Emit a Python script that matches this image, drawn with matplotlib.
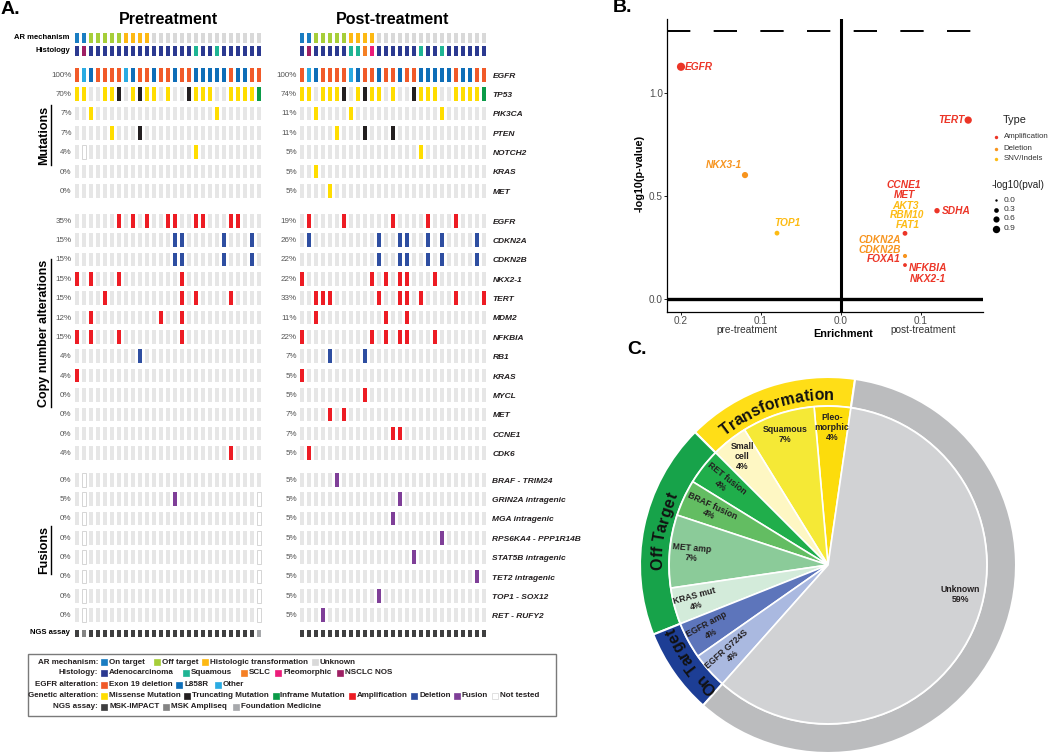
import numpy as np
import matplotlib
matplotlib.use("Agg")
import matplotlib.pyplot as plt
from matplotlib.patches import Rectangle
from matplotlib.font_manager import FontProperties, findfont, get_font

plt.rcParams['font.family'] = ['Liberation Sans', 'DejaVu Sans']

W, H = 1050, 752
N = 27

# ---------------- panel A data ----------------
ar_mechanism = "OOFFFFFHHHHUUUUUUUUUUUUUUUU"
pre_histology = "ANAAAAAAAAAAAAAAASAASAAAAAA"
post_histology = "ANAAAAASSCPAAAAAASAASAAAAAA"
egfr_alteration = "EOREEEEOREEREEREERRRRRERREE"
pre_assay = "DMDDDDDDDDDDDDDDDDDDDDDDDDF"
post_assay = "DDDDDDDDDDDDDDDDDDDDDDDDDDD"

mut_genes = ["EGFR", "TP53", "PIK3CA", "PTEN", "NOTCH2", "KRAS", "MET"]
cna_genes = ["EGFR", "CDKN2A", "CDKN2B", "NKX2-1", "TERT", "MDM2", "NFKBIA",
             "RB1", "KRAS", "MYCL", "MET", "CCNE1", "CDK6"]
fus_genes = ["BRAF - TRIM24", "GRIN2A intragenic", "MGA intragenic",
             "RPS6KA4 - PPP1R14B", "STAT5B intragenic", "TET2 intragenic",
             "TOP1 - SOX12", "RET - RUFY2"]

# column indices per alteration: M missense, T truncating, I inframe,
# A amplification, D deletion, F fusion, x not tested
pre_mut = [
    {"M": [0, 1, 4, 5, 8, 10, 11, 13, 17, 18, 19, 22, 23, 24, 25], "T": [6, 9, 16], "I": [26]},
    {"M": [2, 20]},
    {"M": [5], "T": [9]},
    {"M": [17], "x": [1]},
    {},
    {},
]
post_mut = [
    {"M": [0, 1, 3, 4, 5, 8, 10, 11, 13, 17, 18, 19, 22, 23, 24, 25], "T": [6, 9, 16], "I": [26]},
    {"M": [2, 7, 20]},
    {"M": [5], "T": [9, 13]},
    {"M": [17]},
    {"M": [2]},
    {"M": [4]},
]
pre_cna = [
    {"A": [6, 8, 10, 13, 14, 17, 18, 22, 23]},
    {"D": [14, 15, 21, 25]},
    {"D": [14, 15, 21, 25]},
    {"A": [0, 2, 6, 15]},
    {"A": [4, 15, 17, 22]},
    {"A": [2, 12, 15]},
    {"A": [0, 2, 6, 15]},
    {"D": [9]},
    {"A": [0]},
    {},
    {},
    {},
    {"A": [22]},
]
post_cna = [
    {"A": [1, 6, 13, 18, 22]},
    {"D": [1, 11, 14, 15, 18, 20, 25]},
    {"D": [11, 14, 15, 18, 20, 25]},
    {"A": [0, 10, 12, 14, 15, 19]},
    {"A": [2, 3, 4, 11, 14, 15, 17, 22, 26]},
    {"A": [2, 12, 15]},
    {"A": [0, 10, 12, 14, 15, 19]},
    {"D": [4, 9]},
    {"A": [0]},
    {"A": [9]},
    {"A": [4, 6]},
    {"A": [13, 14]},
    {"A": [1]},
]
pre_fus = [
    {"x": [1]},
    {"F": [14], "x": [1, 26]},
    {"x": [1, 26]},
    {"x": [1, 26]},
    {"x": [1, 26]},
    {"x": [1, 26]},
    {"x": [1, 26]},
    {"x": [1, 26]},
]
post_fus = [{"F": [5]}, {"F": [14]}, {"F": [13]}, {"F": [20]},
            {"F": [16]}, {"F": [25]}, {"F": [11]}, {"F": [3]}]

pre_mut_pct = ["100%", "70%", "7%", "7%", "4%", "0%", "0%"]
post_mut_pct = ["100%", "74%", "11%", "11%", "5%", "5%", "5%"]
pre_cna_pct = ["35%", "15%", "15%", "15%", "15%", "12%", "15%", "4%", "4%", "0%", "0%", "0%", "4%"]
post_cna_pct = ["19%", "26%", "22%", "22%", "33%", "11%", "22%", "7%", "5%", "5%", "7%", "7%", "5%"]
pre_fus_pct = ["0%", "5%", "0%", "0%", "0%", "0%", "0%", "0%"]
post_fus_pct = ["5%"] * 8

# ---------------- panel B data ----------------
b_genes = ["EGFR", "TERT", "NKX3-1", "TOP1", "SDHA", "CCNE1", "CDKN2A", "FOXA1"]
b_enrichment = [-0.200, 0.159, -0.120, -0.080, 0.120, 0.080, 0.080, 0.080]
b_neglogp = [1.128, 0.869, 0.602, 0.320, 0.429, 0.319, 0.209, 0.165]
b_type = ["Amplification", "Amplification", "Deletion", "SNV/Indels",
          "Amplification", "Amplification", "Deletion", "Amplification"]
b_label_text = ["EGFR", "TERT", "NKX3-1", "TOP1", "SDHA", "CCNE1", "MET", "AKT3",
                "RBM10", "FAT1", "CDKN2A", "CDKN2B", "FOXA1", "NFKBIA", "NKX2-1"]
b_label_type = ["Amplification", "Amplification", "Deletion", "SNV/Indels", "Amplification",
                "Amplification", "Amplification", "SNV/Indels", "SNV/Indels", "SNV/Indels",
                "Deletion", "Deletion", "Amplification", "Amplification", "Amplification"]

# ---------------- panel C data ----------------
inner_labels = ["Pleo-\nmorphic\n4%", "Squamous\n7%", "Small\ncell\n4%", "RET fusion\n4%",
                "BRAF fusion\n4%", "MET amp\n7%", "KRAS mut\n4%", "EGFR amp\n4%",
                "EGFR G724S\n4%", "Unknown\n59%"]
inner_counts = [1, 2, 1, 1, 1, 2, 1, 1, 1, 16]
outer_labels = ["Transformation", "Off Target", "On Target", ""]
outer_counts = [4, 5, 2, 16]

# ---------------- colours ----------------
alt_colors = {'.': '#E6E6E6', 'x': 'white', 'M': '#FFDD00', 'T': '#231F20', 'I': '#0A9B48',
              'A': '#ED1C24', 'D': '#2E4EA1', 'F': '#7F3F98'}
ar_colors = {'O': '#1A7DC2', 'F': '#A6CE39', 'H': '#FDB913', 'U': '#D9D9D9'}
hist_colors = {'A': '#2B3990', 'S': '#1FB594', 'C': '#F58025', 'P': '#EC1C7A', 'N': '#9E1F63'}
egfr_colors = {'E': '#F15A29', 'R': '#0E6EB8', 'O': '#2AABE2'}
assay_colors = {'D': '#3F3F40', 'M': '#848484', 'F': '#A7A9AC'}
type_colors = {'Amplification': '#EC3527', 'Deletion': '#F7941E', 'SNV/Indels': '#FDBB13'}
inner_colors = ['#FCDC0C', '#F5E936', '#FEF7C3', '#20AE4B', '#63BD62', '#8BCB99',
                '#D3EBDA', '#5D75BB', '#AAB9E0', '#D1D2D4']
outer_colors = ['#FFDE17', '#17A34A', '#1D3E95', '#BBBCBE']

fig = plt.figure(figsize=(W / 100, H / 100), dpi=100)
ov = fig.add_axes([0, 0, 1, 1])
ov.set_xlim(0, W)
ov.set_ylim(H, 0)
ov.axis('off')


def px_axes(x0, y0, w, h):
    return fig.add_axes([x0 / W, 1 - (y0 + h) / H, w / W, h / H])


def expand(hits):
    row = ['.'] * N
    for code, cols in hits.items():
        for c in cols:
            row[c] = code
    return row


def draw_row(ax, codes, cmap, top, height, width=0.7):
    fc = [cmap[c] for c in codes]
    ec = ['#D5D5D5' if c == 'x' else 'none' for c in codes]
    ax.bar(np.arange(len(codes)), height, bottom=top, width=width,
           color=fc, edgecolor=ec, linewidth=0.7)


step = 19.35
mut_top = [68 + step * i for i in range(len(mut_genes))]
cna_top = [214 + step * i for i in range(len(cna_genes))]
fus_top = [473 + step * i for i in range(len(fus_genes))]
cell_h = 13.5

ax_pre = px_axes(73.5, 0, 189, H)
ax_post = px_axes(298.5, 0, 189, H)
panels = [
    (ax_pre, pre_histology, pre_mut, pre_cna, pre_fus, pre_assay,
     pre_mut_pct + pre_cna_pct + pre_fus_pct),
    (ax_post, post_histology, post_mut, post_cna, post_fus, post_assay,
     post_mut_pct + post_cna_pct + post_fus_pct),
]
for ax, hist, mut, cna, fus, assay, pcts in panels:
    ax.set_xlim(-0.5, N - 0.5)
    ax.set_ylim(H, 0)
    ax.axis('off')
    draw_row(ax, ar_mechanism, ar_colors, 32.5, 10)
    draw_row(ax, hist, hist_colors, 46, 10)
    draw_row(ax, egfr_alteration, egfr_colors, mut_top[0], cell_h)
    for hits, top in zip(mut, mut_top[1:]):
        draw_row(ax, expand(hits), alt_colors, top, cell_h)
    for hits, top in zip(cna, cna_top):
        draw_row(ax, expand(hits), alt_colors, top, cell_h)
    for hits, top in zip(fus, fus_top):
        draw_row(ax, expand(hits), alt_colors, top, cell_h)
    draw_row(ax, assay, assay_colors, 629.5, 7.5, width=0.6)
    for pct, top in zip(pcts, mut_top + cna_top + fus_top):
        ax.text(-0.75, top + cell_h / 2 + 0.5, pct, ha='right', va='center',
                fontsize=5.8, color='#555555')

for gene, top in zip(mut_genes + cna_genes + fus_genes, mut_top + cna_top + fus_top):
    ax_post.text(27.2, top + cell_h / 2 + 1.5, gene, ha='left', va='center', fontsize=6,
                 fontweight='bold', fontstyle='italic', color='#231F20')

ov.text(1, 9, "A.", fontsize=14, fontweight='bold', va='center', ha='left')
ov.text(168, 20, "Pretreatment", fontsize=11.5, fontweight='bold', ha='center', va='center')
ov.text(393, 20, "Post-treatment", fontsize=11.5, fontweight='bold', ha='center', va='center')
for txt, y in [("AR mechanism", 37.5), ("Histology", 51), ("NGS assay", 633)]:
    ov.text(70, y, txt, fontsize=5.5, fontweight='bold', ha='right', va='center')

section_txt = []
for txt, y in [("Mutations", 135), ("Copy number alterations", 333), ("Fusions", 550)]:
    section_txt.append(ov.text(44, y, txt, fontsize=9, fontweight='bold', rotation=90,
                               ha='center', va='center'))

# legend box of panel A
ov.add_patch(Rectangle((28, 654), 528, 62, facecolor='none', edgecolor='#7A7A7A', lw=1.0))
legend_rows = [
    ("AR mechanism:", ["On target", "Off target", "Histologic transformation", "Unknown"],
     [ar_colors[k] for k in "OFHU"], [101, 154, 196, 302]),
    ("Histology:", ["Adenocarcinoma", "Squamous", "SCLC", "Pleomorphic", "NSCLC NOS"],
     [hist_colors[k] for k in "ASCPN"], [101, 183, 241, 275, 337]),
    ("EGFR alteration:", ["Exon 19 deletion", "L858R", "Other"],
     [egfr_colors[k] for k in "ERO"], [101, 176, 215]),
    ("Genetic alteration:", ["Missense Mutation", "Truncating Mutation", "Inframe Mutation",
                             "Amplification", "Deletion", "Fusion", "Not tested"],
     [alt_colors[k] for k in "MTIADFx"], [101, 174, 263, 343, 404, 439, 482]),
    ("NGS assay:", ["MSK-IMPACT", "MSK Ampliseq", "Foundation Medicine"],
     [assay_colors[k] for k in "DMF"], [101, 163, 233]),
]
legend_y = [662, 673, 684.5, 695.5, 706.5]
fig.canvas.draw()
renderer = fig.canvas.get_renderer()
for (title, names, cols, xs), y in zip(legend_rows, legend_y):
    ov.text(98, y, title, fontsize=5.8, fontweight='bold', ha='right', va='center', color='#231F20')
    cursor = 0
    for name, c, x in zip(names, cols, xs):
        x = max(x, cursor)
        ov.add_patch(Rectangle((x, y - 3), 6, 6.2, facecolor=c,
                               edgecolor='#D5D5D5' if c == 'white' else c, lw=0.5))
        t = ov.text(x + 8, y, name, fontsize=5.8, fontweight='bold', ha='left',
                    va='center', color='#231F20')
        cursor = x + 8 + t.get_window_extent(renderer).width + 3.5

# ---------------- panel B ----------------
axb = px_axes(667, 19, 316, 293)
axb.set_xlim(-0.2175, 0.1775)
axb.set_ylim(-0.063, 1.36)
for s in ['top', 'right']:
    axb.spines[s].set_visible(False)
for s in ['left', 'bottom']:
    axb.spines[s].set_linewidth(0.9)
axb.axhline(0, color='black', lw=2.4, zorder=1)
axb.axvline(0, color='black', lw=2.2, zorder=1)
axb.axhline(-np.log10(0.05), color='black', lw=1.4, linestyle=(0, (12, 12)), zorder=1)
axb.set_xticks([-0.2, -0.1, 0.0, 0.1])
axb.set_xticklabels(["0.2", "0.1", "0.0", "0.1"])
axb.set_yticks([0.0, 0.5, 1.0])
axb.set_yticklabels(["0.0", "0.5", "1.0"])
axb.tick_params(length=2, width=0.6, labelsize=7.2, labelcolor='#4D4D4D', pad=1)
axb.scatter(b_enrichment, b_neglogp, s=[3 + 28 * v for v in b_neglogp],
            c=[type_colors[t] for t in b_type], linewidths=0, zorder=3)

b_label_pos = [(-0.195, 1.128, 'left'), (0.154, 0.869, 'right'), (-0.147, 0.653, 'center'),
               (-0.067, 0.367, 'center'), (0.126, 0.429, 'left'), (0.078, 0.553, 'center'),
               (0.079, 0.503, 'center'), (0.080, 0.453, 'center'), (0.082, 0.408, 'center'),
               (0.083, 0.359, 'center'), (0.048, 0.286, 'center'), (0.048, 0.238, 'center'),
               (0.054, 0.193, 'center'), (0.109, 0.152, 'center'), (0.109, 0.095, 'center')]
for txt, t, (x, y, ha) in zip(b_label_text, b_label_type, b_label_pos):
    axb.text(x, y, txt, color=type_colors[t], fontsize=7.3, fontweight='bold',
             fontstyle='italic', ha=ha, va='center', zorder=4)

ov.text(613, 8, "B.", fontsize=14, fontweight='bold', va='center', ha='left')
ov.text(640, 173, "-log10(p-value)", fontsize=7.8, fontweight='bold', rotation=90,
        ha='center', va='center')
ov.text(747, 330, "pre-treatment", fontsize=7.3, color='#333333', ha='center', va='center')
ov.text(923, 330, "post-treatment", fontsize=7.3, color='#333333', ha='center', va='center')
ov.text(843, 334, "Enrichment", fontsize=7.8, fontweight='bold', ha='center', va='center')

ov.text(1003, 120, "Type", fontsize=7.8, ha='left', va='center', color='#222222')
for name, y in zip(["Amplification", "Deletion", "SNV/Indels"], [137, 148.5, 159]):
    ov.scatter([995.5], [y], s=6, color=type_colors[name], linewidths=0)
    ov.text(1003.5, y, name, fontsize=5.7, ha='left', va='center', color='#333333')
ov.text(992, 185, "-log10(pval)", fontsize=7.2, ha='left', va='center', color='#222222')
for v, y in zip([0.0, 0.3, 0.6, 0.9], [200, 209.5, 219, 228.5]):
    ov.scatter([996], [y], s=3 + 28 * v, color='black', linewidths=0)
    ov.text(1003.5, y, f"{v:.1f}", fontsize=6.1, ha='left', va='center', color='#333333')

# ---------------- panel C ----------------
axc = px_axes(640, 377, 376, 376)
start = 81.7
axc.pie(outer_counts, radius=1.0, colors=outer_colors, startangle=start, counterclock=True,
        wedgeprops=dict(width=0.155, edgecolor='white', linewidth=1.5))
axc.pie(inner_counts, radius=0.845, colors=inner_colors, startangle=start, counterclock=True,
        wedgeprops=dict(edgecolor='white', linewidth=1.2))
axc.set_xlim(-1, 1)
axc.set_ylim(-1, 1)
axc.set_aspect('equal')

total = sum(inner_counts)
edges = start + np.cumsum([0] + inner_counts) / total * 360
inner_r = [0.73, 0.73, 0.735, 0.71, 0.69, 0.73, 0.73, 0.72, 0.70, 0.72]
for i, (lab, r) in enumerate(zip(inner_labels, inner_r)):
    mid = (edges[i] + edges[i + 1]) / 2
    if lab.startswith("Unknown"):
        mid = -12.6
    rot = mid - 180 if 140 < mid < 270 else 0
    th = np.deg2rad(mid)
    axc.text(r * np.cos(th), r * np.sin(th), lab, ha='center', va='center', rotation=rot,
             rotation_mode='anchor', fontsize=6.3, fontweight='bold', color='#231F20',
             linespacing=1.15, multialignment='center')


def curved_text(ax, text, theta_c, r, r_px, size):
    prop = FontProperties(family='Liberation Sans', weight='bold', size=size)
    font = get_font(findfont(prop))
    font.set_size(size, 72)
    widths = []
    for ch in text:
        g = font.load_char(ord(ch))
        widths.append(g.linearHoriAdvance / 65536 * 100 / 72)
    rad = r * r_px
    span = sum(widths) / rad
    a0 = np.deg2rad(theta_c) + span / 2
    cum = 0
    for ch, w in zip(text, widths):
        th = a0 - (cum + w / 2) / rad
        ax.text(r * np.cos(th), r * np.sin(th), ch, rotation=np.rad2deg(th) - 90,
                ha='center', va='baseline', rotation_mode='anchor', fontproperties=prop,
                color='#111111')
        cum += w


oedges = start + np.cumsum([0] + outer_counts) / total * 360
for i, lab in enumerate(outer_labels):
    if lab:
        curved_text(axc, lab, (oedges[i] + oedges[i + 1]) / 2, 0.88, 188, 11.5)

ov.text(627, 350, "C.", fontsize=14, fontweight='bold', va='center', ha='left')

# underline section labels of panel A
fig.canvas.draw()
for t in section_txt:
    bb = t.get_window_extent()
    ov.plot([bb.x1 + 1, bb.x1 + 1], [H - bb.y1, H - bb.y0], color='black', lw=1.0)

fig.savefig("out.png", dpi=100)
